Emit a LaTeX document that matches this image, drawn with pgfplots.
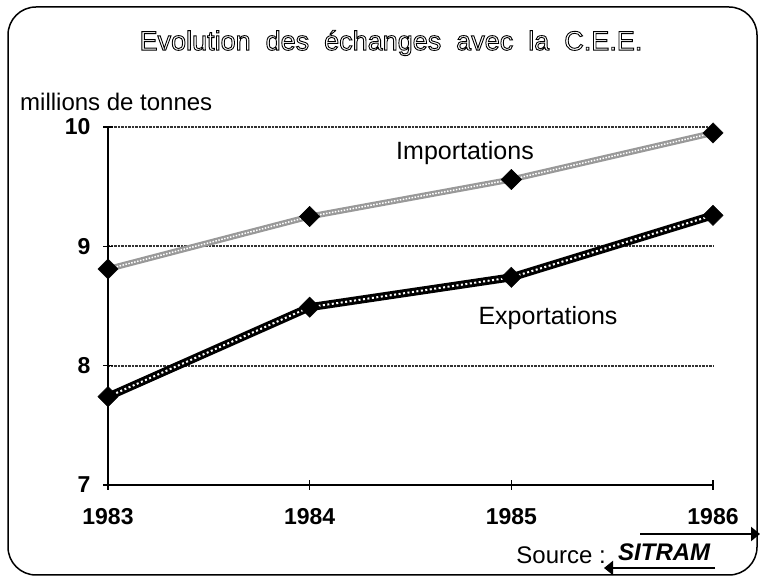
\documentclass[border=0pt]{standalone}
\usepackage{fontspec}
\setmainfont{Liberation Sans}
\usepackage{pgfplots}
\pgfplotsset{compat=1.18}
\usetikzlibrary{arrows.meta}
\begin{document}
\begin{tikzpicture}[x=1pt,y=1pt]
\useasboundingbox (0,0) rectangle (762,580);
\draw[line width=1.5pt, rounded corners=28pt] (8,5) rectangle (757,573);
\begin{axis}[
  at={(108pt,95pt)}, anchor=south west,
  scale only axis, width=605pt, height=358pt,
  xmin=1983, xmax=1986, ymin=7, ymax=10,
  clip=false,
  axis x line=bottom, axis y line=left,
  x axis line style={-, line width=1.5pt},
  y axis line style={-, line width=2.8pt},
  xtick={1983,1984,1985,1986}, ytick={7,8,9,10},
  tick align=center, major tick length=10pt,
  tick style={black, line width=1.5pt},
  /pgf/number format/assume math mode=true,
  xticklabel style={/pgf/number format/1000 sep={}, yshift=-15pt},
  yticklabel style={xshift=-9pt},
  ticklabel style={font=\bfseries\fontsize{23}{23}\selectfont},
  ymajorgrids,
  grid style={black!80, densely dotted, line width=2pt},
]
% Importations
\addplot[black!40, line width=6pt] coordinates {(1983,8.81) (1984,9.25) (1985,9.56) (1986,9.95)};
\addplot[white, line width=1.5pt, dash pattern=on 1.5pt off 1.5pt] coordinates {(1983,8.81) (1984,9.25) (1985,9.56) (1986,9.95)};
% Exportations
\addplot[black, line width=8pt] coordinates {(1983,7.74) (1984,8.49) (1985,8.74) (1986,9.26)};
\addplot[white, line width=2pt, dash pattern=on 2pt off 2.5pt] coordinates {(1983,7.74) (1984,8.49) (1985,8.74) (1986,9.26)};
% markers
\addplot[only marks, mark=square*, mark size=7.2pt, mark options={rotate=45, fill=black, draw=black}] coordinates {(1983,8.81) (1984,9.25) (1985,9.56) (1986,9.95)};
\addplot[only marks, mark=square*, mark size=7.2pt, mark options={rotate=45, fill=black, draw=black}] coordinates {(1983,7.74) (1984,8.49) (1985,8.74) (1986,9.26)};
\end{axis}
\node at (391,537) {\fontsize{27}{27}\selectfont\special{pdf:literal direct 1 Tr 0.9 w}Evolution\ \ des\ \ échanges\ \ avec\ \ la\ \ C.E.E.\special{pdf:literal direct 0 Tr}};
\node[anchor=west, inner sep=0pt] at (20,478) {\fontsize{24}{24}\selectfont millions de tonnes};
\node at (465,427) {\fontsize{25}{25}\selectfont Importations};
\node at (548,262) {\fontsize{25}{25}\selectfont Exportations};
\node[anchor=east, inner sep=0pt] at (606,25) {\fontsize{24}{24}\selectfont Source :};
\node[anchor=west, inner sep=0pt] at (618,28) {\fontsize{24}{24}\selectfont\bfseries\itshape SITRAM};
\draw[line width=2.2pt, -{Triangle[length=9pt,width=14pt]}] (640,46) -- (760,46);
\draw[line width=2.2pt, -{Triangle[length=9pt,width=14pt]}] (715,12) -- (604,12);
\end{tikzpicture}
\end{document}
